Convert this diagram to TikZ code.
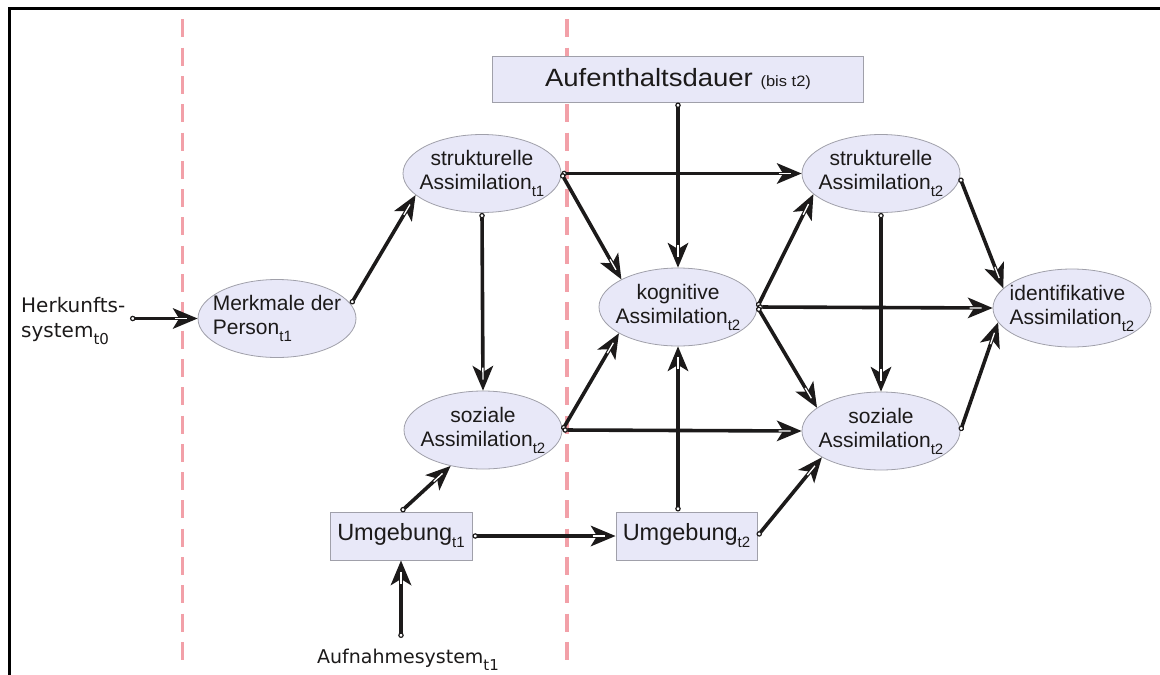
\documentclass[tikz,border=0pt]{standalone}
\usepackage{graphicx}
\usepackage{fontspec}
\setmainfont{Liberation Sans}
\newfontfamily\verafont{DejaVu Sans}
\usetikzlibrary{arrows.meta,shapes.geometric}

\definecolor{nodefill}{RGB}{232,232,248}
\definecolor{nodeline}{RGB}{160,160,170}
\definecolor{guide}{RGB}{242,160,168}
\definecolor{ink}{RGB}{28,26,26}

% lowered index such as t1, t2
\newcommand\tsub[1]{\raisebox{-7pt}{\fontsize{15}{15}\selectfont #1}}

% barbed head with a light stripe along the shaft
\pgfdeclarearrow{
  name=VHead,
  parameters={},
  setup code={
    \pgfarrowssettipend{0pt}
    \pgfarrowssetlineend{-14pt}
    \pgfarrowssetbackend{-25pt}
    \pgfarrowshullpoint{0pt}{0pt}
    \pgfarrowshullpoint{-25pt}{10.5pt}
    \pgfarrowshullpoint{-25pt}{-10.5pt}
  },
  drawing code={
    \pgfsetdash{}{0pt}
    \pgfsetfillcolor{ink}
    \pgfpathmoveto{\pgfpoint{0pt}{0pt}}
    \pgfpathlineto{\pgfpoint{-25pt}{10.5pt}}
    \pgfpathlineto{\pgfpoint{-18.5pt}{0pt}}
    \pgfpathlineto{\pgfpoint{-25pt}{-10.5pt}}
    \pgfpathclose
    \pgfusepathqfill
    \begin{pgfscope}
      \pgfsetlinewidth{1.3pt}
      \pgfsetbuttcap
      \pgfsetstrokecolor{white}
      \pgfpathmoveto{\pgfpoint{-23pt}{0pt}}
      \pgfpathlineto{\pgfpoint{-11pt}{0pt}}
      \pgfusepathqstroke
    \end{pgfscope}
  }
}

\tikzset{
  ell/.style={ellipse, draw=nodeline, fill=nodefill, line width=0.8pt,
    minimum width=158pt, minimum height=78pt, inner sep=0pt},
  etxt/.style={align=center, font=\fontsize{21}{24}\selectfont, text=ink, inner sep=0pt},
  box/.style={rectangle, draw=nodeline, fill=nodefill, line width=1pt,
    inner sep=0pt, font=\fontsize{23.5}{26}\selectfont, text=ink},
  plain/.style={font=\verafont\fontsize{20}{25}\selectfont, text=ink, inner sep=0pt},
  conn/.style={draw=ink, line width=3.6pt,
    {Circle[open,fill=white,length=5.5pt,line width=1.2pt]}-{VHead}},
  guideline/.style={draw=guide, line width=3.5pt, dash pattern=on 18pt off 10.3pt},
}

\begin{document}
\begin{tikzpicture}[x=1pt,y=-1pt]
\useasboundingbox (0,0) rectangle (1160,675);

% frame
\draw[line width=2.6pt] (9.5,675) -- (9.5,8.7) -- (1160,8.7);

% phase separators
\draw[guideline] (182.3,19.3) -- (182.3,660);
\draw[guideline] (566.8,19.3) -- (566.8,660);

% ellipses
\node[ell] (M)  at (277,318.5) {};
\node[ell] (S1) at (482,173.5) {};
\node[ell] (S2) at (483,430) {};
\node[ell] (K)  at (678,307) {};
\node[ell] (T1) at (881,173.5) {};
\node[ell] (R2) at (881,431) {};
\node[ell] (I)  at (1072,308) {};

\node[etxt, align=left] (Mt) at (M) {Merkmale der\\Person\tsub{t1}};
\node[etxt] (S1t) at (S1) {strukturelle\\Assimilation\tsub{t1}};
\node[etxt] (S2t) at (S2) {soziale\\Assimilation\tsub{t2}};
\node[etxt] (Kt)  at (K)  {kognitive\\Assimilation\tsub{t2}};
\node[etxt] (T1t) at (T1) {strukturelle\\Assimilation\tsub{t2}};
\node[etxt] (R2t) at (R2) {soziale\\Assimilation\tsub{t2}};
\node[etxt, align=left] (It) at (I) {identifikative\\Assimilation\tsub{t2}};

% boxes
\node[box, minimum width=371pt, minimum height=46pt] (A) at (678,79)
  {\scalebox{1.1}[1]{\fontsize{25}{27}\selectfont Aufenthaltsdauer \fontsize{15}{15}\selectfont(bis t2)}};
\node[box, minimum width=142pt, minimum height=48pt] (U1) at (401,536) {Umgebung\tsub{t1}};
\node[box, minimum width=141pt, minimum height=48pt] (U2) at (686.5,536) {Umgebung\tsub{t2}};

% outer inputs
\node[plain, anchor=west, align=left] (H) at (21,321) {Herkunfts-\\system\tsub{t0}};
\node[plain, anchor=base, font=\verafont\fontsize{19}{22}\selectfont] (N) at (408,663) {Aufnahmesystem\tsub{t1}};
\coordinate (Hin) at (130,318.5);
\coordinate (Nin) at (401,638);

% paths
\draw[conn] (Hin) -- (M.west);
\draw[conn] (M.11) -- (S1.198);
\draw[conn] (S1.south) -- (S2.north);
\draw[conn] (S1.east) -- (T1.west);
\draw[conn] (S1.east) -- (K.154);
\draw[conn] (A.south) -- (K.north);
\draw[conn] (S2.east) -- (K.204);
\draw[conn] (S2.east) -- (R2.west);
\draw[conn] (U1.north) -- (S2.228);
\draw[conn] (Nin) -- (U1.south);
\draw[conn] (U1.east) -- (U2.west);
\draw[conn] (K.south |- U2.north) -- (K.south);
\draw[conn] (U2.east) -- (R2.204);
\draw[conn] (K.east) -- (T1.197);
\draw[conn] (K.east) -- (I.west);
\draw[conn] (K.east) -- (R2.160);
\draw[conn] (T1.south) -- (R2.north);
\draw[conn] (T1.-3) -- (I.164);
\draw[conn] (R2.east) -- (I.191);
\end{tikzpicture}
\end{document}
